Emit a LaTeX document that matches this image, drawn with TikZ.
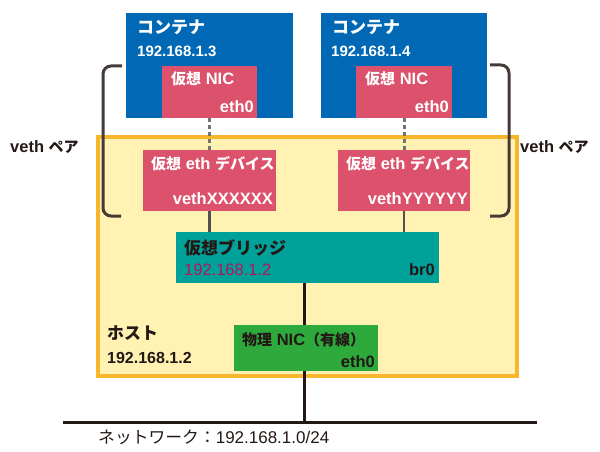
\documentclass[tikz,border=0pt]{standalone}
\usepackage{fontspec}
\setmainfont{Liberation Sans}
\newfontfamily\jp{Noto Sans CJK JP Medium}
\newfontfamily\jpr{Noto Sans CJK JP}
\newcommand\ja[1]{{\jp\fontsize{17}{18}\selectfont #1}}
\newcommand\jb[1]{{\jp\fontsize{15}{16}\selectfont #1}}
\definecolor{cblue}{HTML}{0068B4}
\definecolor{cpink}{HTML}{DC516B}
\definecolor{cteal}{HTML}{00A199}
\definecolor{cgreen}{HTML}{2DAA3B}
\definecolor{cyellow}{HTML}{FFF2B3}
\definecolor{corange}{HTML}{F8B62D}
\definecolor{cmag}{HTML}{B4145E}
\definecolor{cdark}{HTML}{231815}
\definecolor{cgray}{HTML}{505050}
\tikzset{
  box/.style={rectangle, inner sep=0pt, anchor=north west, draw=none},
  wt/.style={inner sep=0pt, text=white, font=\bfseries\fontsize{16.5}{17}\selectfont},
  bt/.style={inner sep=0pt, text=cdark, font=\bfseries\fontsize{16.5}{17}\selectfont},
  ip/.style={font=\bfseries\fontsize{15}{16}\selectfont},
  brk/.style={draw=cdark!85, line width=3pt, rounded corners=8pt},
  dashlink/.style={draw=cgray!80, line width=3pt, dash pattern=on 4pt off 3pt},
  link/.style={draw=cgray, line width=2.5pt},
  wire/.style={draw=cdark, line width=3pt},
}
\begin{document}
\begin{tikzpicture}[x=1pt,y=-1pt]
\useasboundingbox (0,0) rectangle (600,452);
% host
\node[box, fill=cyellow, draw=corange, line width=4pt, minimum width=419, minimum height=239] (host) at (96,135) {};
% containers
\node[box, fill=cblue, minimum width=167, minimum height=105] (c1) at (126,13) {};
\node[box, fill=cblue, minimum width=166, minimum height=105] (c2) at (321,13) {};
\node[box, fill=cpink, minimum width=95, minimum height=52] (n1) at (162,66) {};
\node[box, fill=cpink, minimum width=96, minimum height=52] (n2) at (356,66) {};
% veth devices
\node[box, fill=cpink, minimum width=133, minimum height=61] (v1) at (143,150) {};
\node[box, fill=cpink, minimum width=132, minimum height=61] (v2) at (338,150) {};
% bridge
\node[box, fill=cteal, minimum width=263, minimum height=51] (br) at (176,232) {};
% physical NIC
\node[box, fill=cgreen, minimum width=144, minimum height=46] (pn) at (234,325) {};
% brackets
\coordinate (bl1) at (122,66); \coordinate (bl2) at (121,216);
\coordinate (br1) at (490,65); \coordinate (br2) at (490,216);
\draw[brk] (bl1) -- (103,66) -- (103,216) -- (bl2);
\draw[brk] (br1) -- (509,65) -- (509,216) -- (br2);
% connectors
\draw[dashlink] (n1.south) -- (v1.north);
\draw[dashlink] (n2.south) -- (v2.north);
\draw[link] (v1.south) -- (v1.south |- br.north);
\draw[link] (v2.south) -- (v2.south |- br.north);
\coordinate (netL) at (63,422);
\coordinate (netR) at (537,422);
\coordinate (mx) at (304,0);
\draw[wire] (pn.north -| mx) -- (br.south -| mx);
\draw[wire] (pn.south -| mx) -- (netL -| mx);
\draw[wire] (netL) -- (netR);
% texts
\node[wt, anchor=west] (t1) at (137,27) {\ja{コンテナ}};
\node[wt, ip, anchor=west] (t2) at (137,51) {192.168.1.3};
\node[wt, anchor=west] (t3) at (332,27) {\ja{コンテナ}};
\node[wt, ip, anchor=west] (t4) at (331,51) {192.168.1.4};
\node[wt, anchor=west] (t5) at (171,79) {\jb{仮想} NIC};
\node[wt, anchor=east] (t6) at (254,107) {eth0};
\node[wt, anchor=west] (t7) at (365,79) {\jb{仮想} NIC};
\node[wt, anchor=east] (t8) at (449,107) {eth0};
\node[wt, anchor=west] (t9) at (151,164) {\jb{仮想} eth \jb{デバイス}};
\node[wt, anchor=east] (t10) at (273,199) {vethXXXXXX};
\node[wt, anchor=west] (t11) at (346,164) {\jb{仮想} eth \jb{デバイス}};
\node[wt, anchor=east] (t12) at (468,199) {vethYYYYYY};
\node[bt, anchor=west] (t13) at (184,248) {\ja{仮想ブリッジ}};
\node[bt, anchor=west, text=cmag, font=\fontsize{16.5}{17}\selectfont] (t14) at (184,270) {192.168.1.2};
\node[bt, anchor=east] (t15) at (435,270) {br0};
\node[bt, anchor=west] (t16) at (107,333) {\ja{ホスト}};
\node[bt, anchor=west, font=\bfseries\fontsize{16}{17}\selectfont] (t17) at (107,358) {192.168.1.2};
\node[bt, anchor=west] (t18) at (242,340) {\jb{物理} NIC\jb{（有線）}};
\node[bt, anchor=east] (t19) at (375,362) {eth0};
\node[bt, anchor=west] (t20) at (10,147) {veth \jb{ペア}};
\node[bt, anchor=west] (t21) at (520,147) {veth \jb{ペア}};
\node[bt, anchor=west, font=\fontsize{17}{18}\selectfont] (t22) at (98,437) {{\jpr\fontsize{16.8}{17}\selectfont ネットワーク：}192.168.1.0/24};
\end{tikzpicture}
\end{document}
